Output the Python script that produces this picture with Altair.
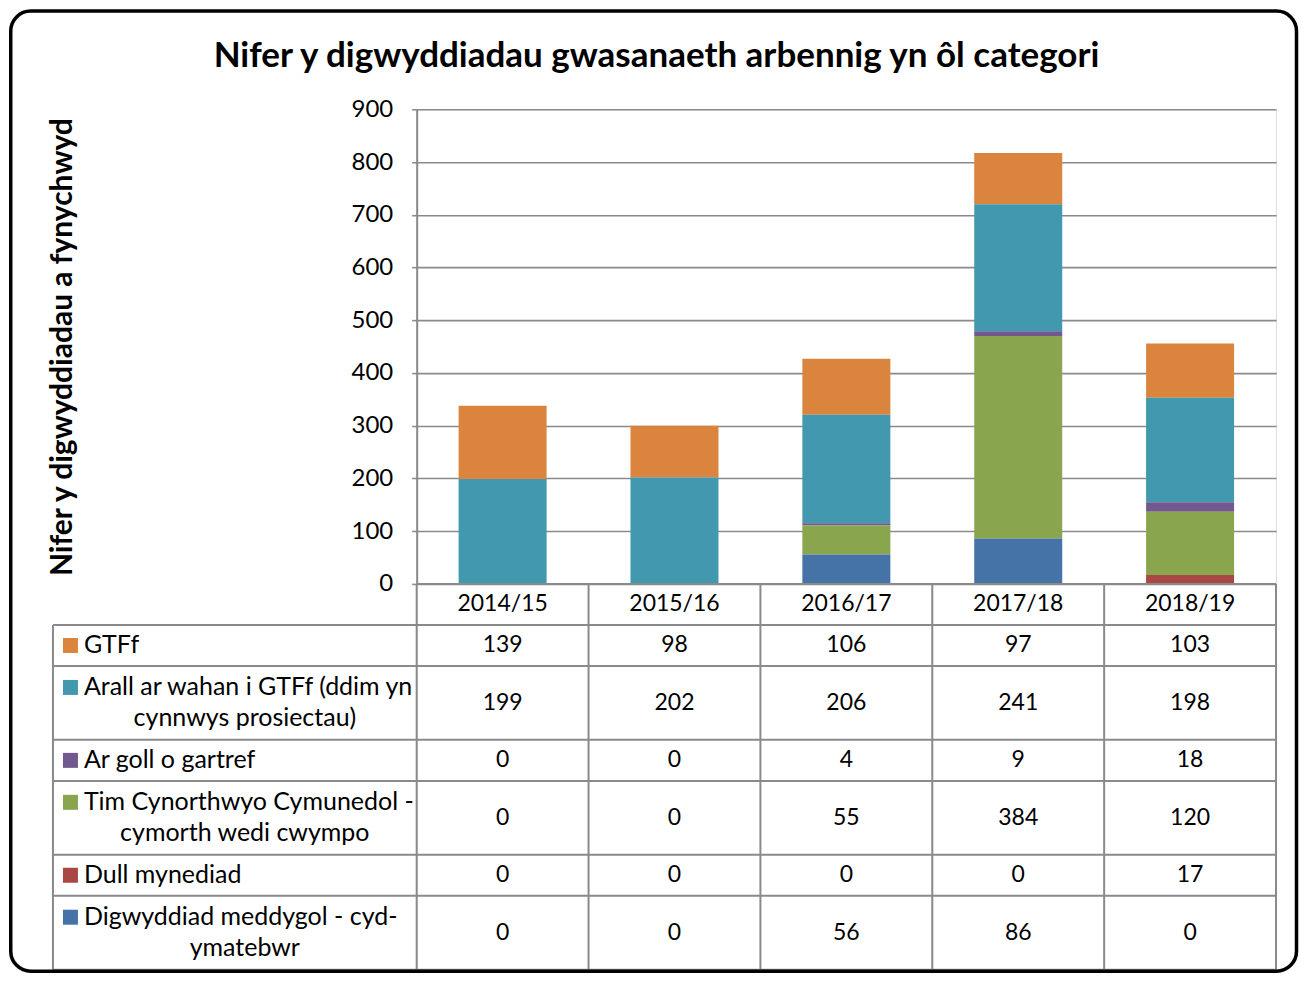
import altair as alt
import pandas as pd

# ---------------- data ----------------
years = ["2014/15", "2015/16", "2016/17", "2017/18", "2018/19"]

series_lines = [
    ["GTFf"],
    ["Arall ar wahan i GTFf (ddim yn", "cynnwys prosiectau)"],
    ["Ar goll o gartref"],
    ["Tim Cynorthwyo Cymunedol -", "cymorth wedi cwympo"],
    ["Dull mynediad"],
    ["Digwyddiad meddygol - cyd-", "ymatebwr"],
]
colors = ["#DB843D", "#4198AF", "#71588F", "#89A54E", "#AA4643", "#4572A7"]

gtff = [139, 98, 106, 97, 103]
arall = [199, 202, 206, 241, 198]
ar_goll = [0, 0, 4, 9, 18]
tim = [0, 0, 55, 384, 120]
dull = [0, 0, 0, 0, 17]
digwyddiad = [0, 0, 56, 86, 0]
series_values = [gtff, arall, ar_goll, tim, dull, digwyddiad]

title_text = "Nifer y digwyddiadau gwasanaeth arbennig yn ôl categori"
y_title = "Nifer y digwyddiadau a fynychwyd"
y_ticks = list(range(0, 901, 100))


def join_lines(lines):
    out = lines[0]
    for ln in lines[1:]:
        if out.endswith("-") and not out.endswith(" -"):
            out = out + ln
        else:
            out = out + " " + ln
    return out


series_names = [join_lines(l) for l in series_lines]

# ---------------- layout constants ----------------
FONT = "Lato"
PLOT_W, PLOT_H = 860, 475
TABLE_H = 386
GRID = "#8a8a8a"
STEP = PLOT_W / len(years)          # px per year column
TWO_LINE_UNITS = 1.8                # height of a two-line row relative to one-line row


def px(p):
    return p / STEP


row_units = [1.0] + [1.0 if len(l) == 1 else TWO_LINE_UNITS for l in series_lines]
bounds = [0.0]
for u in row_units:
    bounds.append(bounds[-1] + u)
TOTAL = bounds[-1]
UNIT_PX = TABLE_H / TOTAL
LINE_OFF = 15.5 / UNIT_PX

LABEL_LEFT = px(-364)
SQUARE_X = px(-346.5)
TEXT_X = px(-333)
LINE2_X = px(-172)

# ---------------- bar chart ----------------
bar_rows = []
for si, (name, vals) in enumerate(zip(series_names, series_values)):
    for yr, v in zip(years, vals):
        bar_rows.append({"year": yr, "series": name, "idx": si, "value": v})
bar_df = pd.DataFrame(bar_rows)

color_scale = alt.Scale(domain=series_names, range=colors)

bars = alt.Chart(bar_df).mark_bar().encode(
    x=alt.X("year:N", sort=years,
            scale=alt.Scale(paddingInner=0.488, paddingOuter=0.244), axis=None),
    y=alt.Y("value:Q", stack="zero",
            scale=alt.Scale(domain=[0, 900], nice=False),
            axis=alt.Axis(values=y_ticks, grid=True, gridColor=GRID, gridWidth=1.6,
                          domainColor=GRID, domainWidth=2, tickColor=GRID, tickWidth=1.6,
                          tickSize=5, labelFont=FONT, labelFontSize=24, labelColor="black",
                          labelPadding=19, titleFont=FONT, titleFontSize=30,
                          titleFontWeight="bold", titleColor="black", titleX=-354,
                          titleY=PLOT_H / 2, titleAngle=270, titleAlign="center",
                          titleBaseline="middle"),
            title=y_title),
    color=alt.Color("series:N", scale=color_scale, legend=None),
    order=alt.Order("idx:Q", sort="descending"),
).properties(
    width=PLOT_W, height=PLOT_H,
    title=alt.TitleParams(title_text, font=FONT, fontSize=35, fontWeight="bold",
                          color="black", anchor="middle", frame="group",
                          dx=-190, offset=23),
)

# ---------------- data table ----------------
xs = alt.Scale(domain=[0, len(years)], nice=False, zero=False)
ys = alt.Scale(domain=[0, TOTAL], nice=False, zero=False, reverse=True)

rule_rows = [{"x": 0, "x2": len(years), "y": 0, "y2": 0}]
for b in bounds[1:]:
    rule_rows.append({"x": LABEL_LEFT, "x2": len(years), "y": b, "y2": b})
rule_rows.append({"x": LABEL_LEFT, "x2": LABEL_LEFT, "y": bounds[1], "y2": TOTAL})
for i in range(len(years) + 1):
    rule_rows.append({"x": i, "x2": i, "y": 0, "y2": TOTAL})
rule_df = pd.DataFrame(rule_rows)

cell_rows = []
for i, yr in enumerate(years):
    cell_rows.append({"x": i + 0.5, "y": (bounds[0] + bounds[1]) / 2, "text": yr})
for si, vals in enumerate(series_values):
    yc = (bounds[si + 1] + bounds[si + 2]) / 2
    for i, v in enumerate(vals):
        cell_rows.append({"x": i + 0.5, "y": yc, "text": str(v)})
cell_df = pd.DataFrame(cell_rows)

line1_rows, line2_rows, sq_rows = [], [], []
for si, lines in enumerate(series_lines):
    yc = (bounds[si + 1] + bounds[si + 2]) / 2
    if len(lines) == 1:
        y1 = yc
    else:
        y1 = yc - LINE_OFF
        line2_rows.append({"x": LINE2_X, "y": yc + LINE_OFF, "text": lines[1]})
    line1_rows.append({"x": TEXT_X, "y": y1, "text": lines[0]})
    sq_rows.append({"x": SQUARE_X, "y": y1, "series": series_names[si]})

rules = alt.Chart(rule_df).mark_rule(color=GRID, strokeWidth=2).encode(
    x=alt.X("x:Q", scale=xs, axis=None), x2="x2:Q",
    y=alt.Y("y:Q", scale=ys, axis=None), y2="y2:Q",
)
cells = alt.Chart(cell_df).mark_text(font=FONT, fontSize=23, color="black",
                                     align="center", baseline="middle").encode(
    x=alt.X("x:Q", scale=xs, axis=None),
    y=alt.Y("y:Q", scale=ys, axis=None),
    text="text:N",
)
labels1 = alt.Chart(pd.DataFrame(line1_rows)).mark_text(
    font=FONT, fontSize=25, color="black", align="left", baseline="middle").encode(
    x=alt.X("x:Q", scale=xs, axis=None),
    y=alt.Y("y:Q", scale=ys, axis=None),
    text="text:N",
)
labels2 = alt.Chart(pd.DataFrame(line2_rows)).mark_text(
    font=FONT, fontSize=25, color="black", align="center", baseline="middle").encode(
    x=alt.X("x:Q", scale=xs, axis=None),
    y=alt.Y("y:Q", scale=ys, axis=None),
    text="text:N",
)
squares = alt.Chart(pd.DataFrame(sq_rows)).mark_square(size=225, opacity=1).encode(
    x=alt.X("x:Q", scale=xs, axis=None),
    y=alt.Y("y:Q", scale=ys, axis=None),
    color=alt.Color("series:N", scale=color_scale, legend=None),
)
frame = alt.Chart(pd.DataFrame({"k": [0]})).mark_rect(
    fillOpacity=0, stroke="black", strokeWidth=3.5, cornerRadius=20).encode(
    x=alt.value(-406.25), x2=alt.value(880.5), y=alt.value(-573.25), y2=alt.value(387.5),
)

table = alt.layer(rules, cells, labels1, labels2, squares, frame).properties(
    width=PLOT_W, height=TABLE_H)

chart = alt.vconcat(bars, table, spacing=0, bounds="flush").properties(
    padding={"left": 0, "top": 0, "right": 0, "bottom": 0}
).configure_view(stroke="transparent").configure(font=FONT, background="white")

chart.save("out.html", embed_options={"renderer": "svg", "actions": False})
